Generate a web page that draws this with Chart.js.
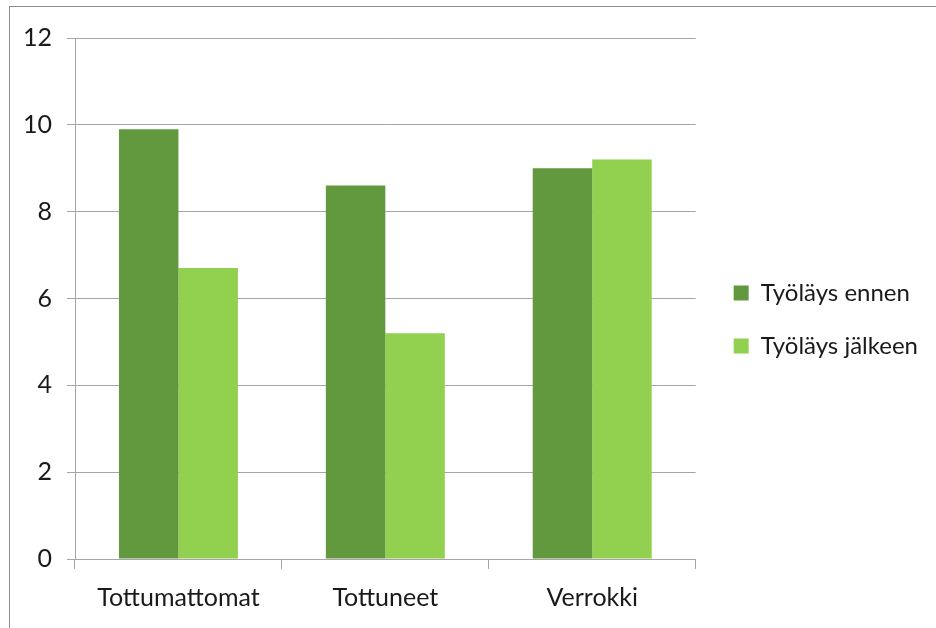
<!DOCTYPE html>
<html>
<head>
<meta charset="utf-8">
<script src="https://cdn.jsdelivr.net/npm/chart.js@4"></script>
<style>
    html, body { margin: 0; padding: 0; background: #fff; overflow: hidden; }
    .wrap { position: relative; width: 936px; height: 628px; }
    .frame { position: absolute; left: 9px; top: 6px; width: 1000px; height: 700px;
             border-top: 1px solid #8c8c8c; border-left: 1px solid #8c8c8c; }
    canvas { position: absolute; left: 0; top: 0; }
</style>
</head>
<body>
<div class="wrap">
    <div class="frame"></div>
    <canvas id="chart" width="936" height="628"></canvas>
</div>
<script>
// data
const categories = ["Tottumattomat", "Tottuneet", "Verrokki"];
const seriesNames = ["Työläys ennen", "Työläys jälkeen"];
const before = [9.9, 8.6, 9.0];
const after = [6.7, 5.2, 9.2];
const yTicks = [0, 2, 4, 6, 8, 10, 12];

const darkGreen = "#62983e";
const lightGreen = "#92d050";
const gridColor = "#a6a6a6";

// nudge the legend a bit away from the plot area
const legendShift = {
    id: "legendShift",
    afterLayout(chart) {
        const lg = chart.legend;
        if (!lg) return;
        lg.left += 9;
        lg.right += 9;
        lg.top -= 9;
        lg.bottom -= 9;
    }
};

const ctx = document.getElementById("chart").getContext("2d");

new Chart(ctx, {
    type: "bar",
    data: {
        labels: categories,
        datasets: [
            { label: seriesNames[0], data: before, backgroundColor: darkGreen },
            { label: seriesNames[1], data: after, backgroundColor: lightGreen }
        ]
    },
    options: {
        responsive: false,
        animation: false,
        datasets: {
            bar: { barPercentage: 1, categoryPercentage: 0.575 }
        },
        layout: {
            padding: { left: 10, top: 38, right: 17, bottom: 9 }
        },
        plugins: {
            legend: {
                position: "right",
                labels: {
                    boxWidth: 15,
                    boxHeight: 15,
                    padding: 29,
                    color: "#1a1a1a",
                    font: { family: "Lato", size: 24 }
                }
            },
            tooltip: { enabled: false }
        },
        scales: {
            x: {
                afterFit: s => { s.height = 60; },
                grid: {
                    offset: true,
                    drawOnChartArea: false,
                    tickLength: 10,
                    color: gridColor
                },
                border: { color: gridColor },
                ticks: {
                    padding: 14,
                    color: "#1a1a1a",
                    font: { family: "Lato", size: 25 }
                }
            },
            y: {
                min: 0,
                max: 12,
                afterFit: s => { s.width = 65; },
                afterBuildTicks: s => { s.ticks = yTicks.map(v => ({ value: v })); },
                grid: {
                    color: gridColor,
                    tickLength: 8
                },
                border: { color: gridColor },
                ticks: {
                    padding: 15,
                    color: "#1a1a1a",
                    font: { family: "Lato", size: 25 }
                }
            }
        }
    },
    plugins: [legendShift]
});
</script>
</body>
</html>
